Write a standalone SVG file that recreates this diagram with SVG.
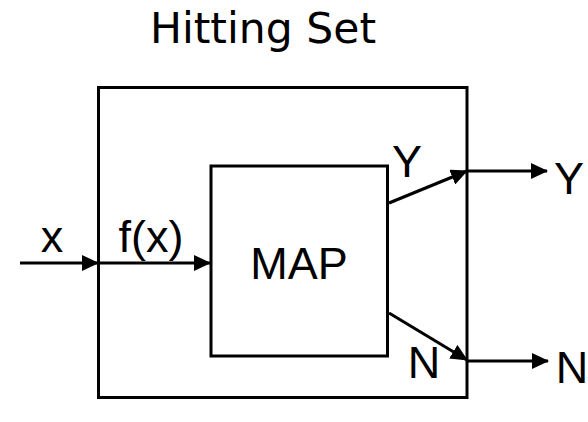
<svg xmlns="http://www.w3.org/2000/svg" width="588" height="422" viewBox="0 0 588 422">
<style>
.box{fill:none;stroke:#000;stroke-width:3}
.ln{fill:none;stroke:#000;stroke-width:3;marker-end:url(#ah)}
.t{font-family:"Liberation Sans",Arial,sans-serif;font-size:45px;fill:#000;text-anchor:middle}
.title{font-family:"DejaVu Sans",Verdana,sans-serif;font-size:42.5px;fill:#000;text-anchor:middle}
</style>
<defs>
<marker id="ah" markerUnits="userSpaceOnUse" markerWidth="18" markerHeight="16" refX="16" refY="8" orient="auto" viewBox="0 0 18 16">
<path d="M0,0 L17,8 L0,16 z" fill="#000"/>
</marker>
</defs>
<rect width="588" height="422" fill="#fff"/>
<text class="title" x="263" y="43">Hitting Set</text>
<g id="outer"><rect class="box" x="98.5" y="87.5" width="368.5" height="310"/></g>
<g id="map"><rect class="box" x="211" y="166" width="176.5" height="190"/>
<text class="t" x="299" y="279">MAP</text></g>
<g id="connectors">
<line class="ln" x1="20" y1="263" x2="98" y2="263"/>
<line class="ln" x1="99" y1="263" x2="210" y2="263"/>
<line class="ln" x1="389" y1="203" x2="467" y2="171"/>
<line class="ln" x1="467" y1="171" x2="547" y2="171"/>
<line class="ln" x1="389" y1="313" x2="467" y2="360"/>
<line class="ln" x1="467" y1="361" x2="548" y2="361"/>
</g>
<g id="labels">
<text class="t" x="52" y="252">x</text>
<text class="t" x="151" y="252">f(x)</text>
<text class="t" x="407" y="177">Y</text>
<text class="t" x="569" y="194">Y</text>
<text class="t" x="424" y="378">N</text>
<text class="t" x="572" y="383">N</text>
</g>
</svg>
